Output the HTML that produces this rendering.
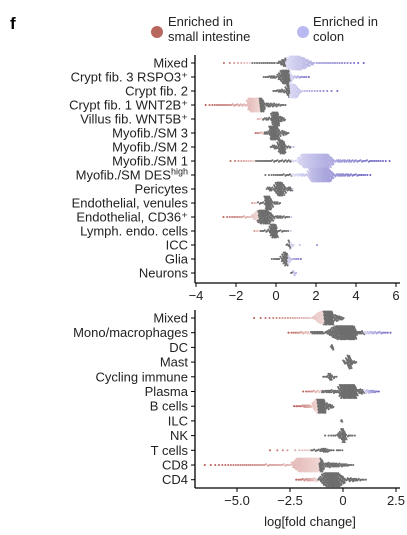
<!DOCTYPE html>
<html><head><meta charset="utf-8"><style>
body{margin:0;background:#fff}
svg{display:block;font-family:"Liberation Sans",sans-serif}
</style></head><body>
<svg id="c" width="407" height="535" viewBox="0 0 407 535">
<text x="10" y="29" font-size="17" font-weight="bold">f</text>
<g>
<circle cx="157" cy="32" r="6" fill="#b8675f"/>
<text x="168" y="26" font-size="13" fill="#222"><tspan x="168">Enriched in</tspan><tspan x="168" dy="15">small intestine</tspan></text>
<circle cx="303" cy="32" r="6" fill="#b9b9f2"/>
<text x="313" y="26" font-size="13" fill="#222"><tspan x="313">Enriched in</tspan><tspan x="313" dy="15">colon</tspan></text>
</g>
<g id="top"></g><g id="bot"></g>
</svg>
<script>
// Top panel data
const topCats=["Mixed","Crypt fib. 3 RSPO3⁺","Crypt fib. 2","Crypt fib. 1 WNT2B⁺","Villus fib. WNT5B⁺","Myofib./SM 3","Myofib./SM 2","Myofib./SM 1","Myofib./SM DES^high","Pericytes","Endothelial, venules","Endothelial, CD36⁺","Lymph. endo. cells","ICC","Glia","Neurons"];
const topMin=[-2.9,-0.7,-0.2,-3.7,-1.0,-1.1,-0.3,-2.5,-0.7,-0.5,-1.3,-2.8,-1.2,0.5,-0.3,0.7];
const topQ1=[0.0,0.0,0.4,-1.5,-0.3,-0.4,0.0,1.0,1.5,-0.2,-0.6,-1.3,-0.4,0.6,0.2,0.8];
const topMed=[1.0,0.5,0.8,-1.0,0.0,-0.1,0.3,2.0,2.2,0.2,-0.4,-0.6,-0.1,0.7,0.5,0.9];
const topQ3=[2.0,0.9,1.3,-0.5,0.2,0.3,0.5,3.0,3.0,0.6,-0.1,0.0,0.1,1.0,0.8,1.0];
const topMax=[4.7,1.8,3.4,0.6,0.5,0.7,1.0,5.9,4.9,0.9,0.3,0.9,0.9,3.0,1.4,1.1];
const topN=[200,120,120,260,110,120,80,420,300,90,80,150,90,18,60,8];
const topGrayLo=[-1.2,-0.8,-0.5,-0.8,-0.7,-0.6,-0.5,-1.0,-1.0,-0.6,-0.9,-0.9,-0.8,0.4,-0.5,0.7];
const topGrayHi=[0.5,0.7,0.7,0.7,0.6,0.8,0.8,0.8,0.8,0.8,0.5,0.7,0.7,0.7,0.6,0.85];
const topTicks=[-4,-2,0,2,4,6];
// Bottom panel data
const botCats=["Mixed","Mono/macrophages","DC","Mast","Cycling immune","Plasma","B cells","ILC","NK","T cells","CD8","CD4"];
const botMin=[-4.5,-2.7,-0.6,0.0,-1.0,-2.0,-2.4,-0.1,-1.0,-3.8,-6.8,-2.3];
const botQ1=[-1.5,-0.9,-0.55,0.1,-0.8,-0.3,-1.5,-0.08,-0.3,-2.5,-2.5,-1.2];
const botMed=[-0.7,0.2,-0.5,0.3,-0.6,0.3,-1.0,-0.05,0.0,-1.0,-1.5,-0.5];
const botQ3=[-0.4,0.7,-0.45,0.5,-0.4,0.7,-0.8,-0.03,0.2,-0.3,-0.8,0.2];
const botMax=[0.1,2.4,-0.4,0.7,-0.2,1.8,-0.4,0.0,0.7,0.1,0.6,1.2];
const botN=[200,320,6,40,20,320,160,3,50,40,420,220];
const botGrayLo=[-0.9,-1.5,-1,-1,-1.1,-1.0,-1.2,-1,-1.1,-1.5,-1.1,-1.2];
const botGrayHi=[0.2,1.0,1,1,1,1.0,0.5,1,1,1,1,1.5];
const botTicks=[-5.0,-2.5,0,2.5];
const botTickLabels=["−5.0","−2.5","0","2.5"];

const NS="http://www.w3.org/2000/svg";
function mk(t,a,p){const e=document.createElementNS(NS,t);for(const k in a)e.setAttribute(k,a[k]);p.appendChild(e);return e;}
function mix(a,b,t){return a.map((v,i)=>Math.round(v+(b[i]-v)*t));}
function color(v,lo,hi,minV,maxV){
  if(v>=lo&&v<=hi)return "rgb(110,110,110)";
  if(v<lo){const t=Math.min(1,(lo-v)/Math.max(0.5,lo-minV));const c=mix([240,214,212],[178,80,74],t);return `rgb(${c})`;}
  const t=Math.min(1,(v-hi)/Math.max(0.5,maxV-hi));const c=mix([220,220,244],[100,90,190],t);return `rgb(${c})`;
}
function panel(g,cats,mins,q1,med,q3,maxs,ns,glo,ghi,ticks,tlabels,xs,y0,dy,axisY,topY,name){
  const grp=document.getElementById(g);
  
  
  const sx=v=>xs[0]+xs[1]*v;
  mk('line',{x1:195,x2:195,y1:topY,y2:axisY,stroke:'#000','stroke-width':1.3,},grp);
  const xa=mk('line',{x1:195,x2:sx(ticks[ticks.length-1])+4,y1:axisY,y2:axisY,stroke:'#000','stroke-width':1.3},grp);
  
  
  ticks.forEach((t,i)=>{
    const l=mk('line',{x1:sx(t),x2:sx(t),y1:axisY,y2:axisY+4,stroke:'#000'},grp);
    
    
    const tx=mk('text',{x:sx(t),y:axisY+17,'font-size':13,'text-anchor':'middle',fill:'#222'},grp);
    tx.textContent=tlabels?tlabels[i]:(t<0?'−'+(-t):String(t));
    
    
  });
  cats.forEach((c,i)=>{
    const y=y0+dy*i;
    const l=mk('line',{x1:191,x2:195,y1:y,y2:y,stroke:'#000'},grp);
    
    
    const tx=mk('text',{x:188,y:y+4.5,'font-size':13,'text-anchor':'end',fill:'#222'},grp);
    if(c.indexOf('^')>=0){const p=c.split('^');tx.textContent=p[0];const s=mk('tspan',{dy:-5,'font-size':9},tx);s.textContent=p[1];}
    else tx.textContent=c;
    
    
    const qs=[mins[i],q1[i],med[i],q3[i],maxs[i]],n=ns[i],vals=[];
    for(let k=0;k<n;k++){
      const p=(k+0.5)/n;let v,t;
      if(p<0.1){t=p/0.1;v=qs[0]+(qs[1]-qs[0])*Math.pow(t,0.6);}
      else if(p<0.5){t=(p-0.1)/0.4;v=qs[1]+(qs[2]-qs[1])*Math.sqrt(t);}
      else if(p<0.9){t=(p-0.5)/0.4;v=qs[2]+(qs[3]-qs[2])*(1-Math.sqrt(1-t));}
      else {t=(p-0.9)/0.1;v=qs[3]+(qs[4]-qs[3])*(1-Math.pow(1-t,0.6));}
      vals.push(v);
    }
    const bins={};
    vals.forEach(v=>{const b=Math.round(sx(v)/1.6);(bins[b]=bins[b]||[]).push(v);});
    const dg=mk('g',{},grp);
    
    
    Object.keys(bins).forEach(b=>{
      const arr=bins[b],m=arr.length,h=Math.min(6.5,(m-1)*0.75);
      arr.forEach((v,k)=>{
        const oy=m>1?-h+2*h*k/(m-1):0;
        const px=sx(v)+((k%3)-1)*0.4;
        const d=mk('circle',{cx:px,cy:y+oy,r:1.05,fill:color(v,glo[i],ghi[i],mins[i],maxs[i])},dg);
        
        
      });
    });
  });
}
panel('top',topCats,topMin,topQ1,topMed,topQ3,topMax,topN,topGrayLo,topGrayHi,topTicks,null,[276,20],63,14,283,55,'top-panel');
panel('bot',botCats,botMin,botQ1,botMed,botQ3,botMax,botN,botGrayLo,botGrayHi,botTicks,botTickLabels,[343,21.2],318,14.7,488,310,'bottom-panel');
const t=mk('text',{x:310,y:526,'font-size':13,'text-anchor':'middle',fill:'#222'},document.getElementById('c'));
t.textContent='log[fold change]';


</script>
</body></html>
